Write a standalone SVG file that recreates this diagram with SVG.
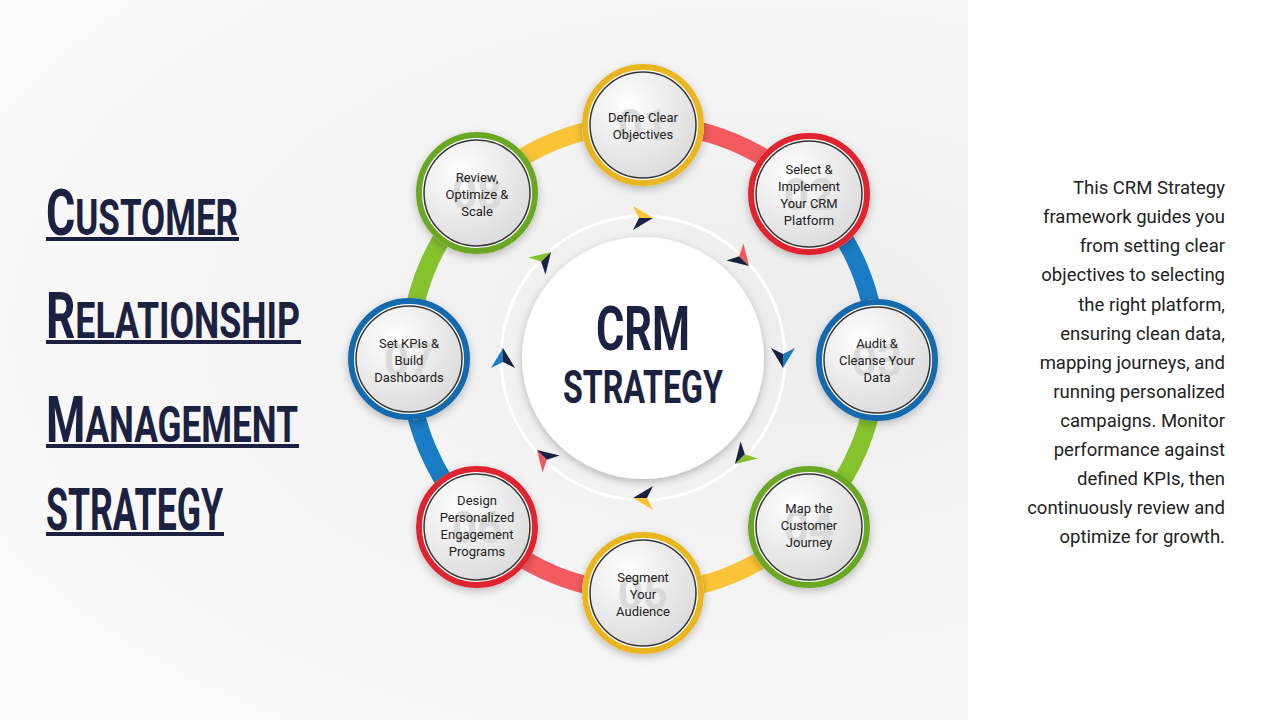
<svg xmlns="http://www.w3.org/2000/svg" width="1280" height="720" viewBox="0 0 1280 720">
<defs>
<radialGradient id="bg" cx="0.6" cy="0.45" r="0.7"><stop offset="0" stop-color="#ededed"/><stop offset="1" stop-color="#fbfbfb"/></radialGradient>
<radialGradient id="nf" cx="0.35" cy="0.3" r="0.8"><stop offset="0" stop-color="#ffffff"/><stop offset="1" stop-color="#d9d9d9"/></radialGradient>
<filter id="sh" x="-30%" y="-30%" width="160%" height="160%"><feDropShadow dx="0" dy="3" stdDeviation="4" flood-color="#000" flood-opacity="0.25"/></filter>
<g id="arw"><path d="M-10,-12 L10,0 L-4,0 Z"/><path d="M-4,0 L10,0 L-10,12 Z" fill="#1b2140"/></g>
</defs>
<style>
.t{font-family:"Roboto","Liberation Sans",sans-serif;fill:#222;font-size:13px;text-anchor:middle}
.num{font-family:"Roboto",sans-serif;font-weight:bold;font-size:44px;fill:#dadada;text-anchor:middle}
.ring{fill:none;stroke-width:18}
.body{font-family:"Roboto","Liberation Sans",sans-serif;font-size:18.5px;fill:#222;text-anchor:end}
.ti{font-family:"Roboto","Liberation Sans",sans-serif;font-weight:bold;fill:#1b2140}
.ul{fill:#1b2140}
</style>
<rect width="1280" height="720" fill="url(#bg)"/>
<rect x="968" y="0" width="312" height="720" fill="#ffffff"/>
<g id="title">
<text class="ti" font-size="64" x="46" y="235" textLength="192" lengthAdjust="spacingAndGlyphs">C<tspan font-size="50">USTOMER</tspan></text><rect class="ul" x="46" y="237" width="193" height="4"/>
<text class="ti" font-size="64" x="46" y="338" textLength="254" lengthAdjust="spacingAndGlyphs">R<tspan font-size="50">ELATIONSHIP</tspan></text><rect class="ul" x="46" y="340" width="255" height="4"/>
<text class="ti" font-size="64" x="46" y="442" textLength="252" lengthAdjust="spacingAndGlyphs">M<tspan font-size="50">ANAGEMENT</tspan></text><rect class="ul" x="46" y="444" width="253" height="4"/>
<text class="ti" font-size="60" x="46" y="530" textLength="177" lengthAdjust="spacingAndGlyphs">STRATEGY</text><rect class="ul" x="46" y="532" width="178" height="4"/>
</g>
<g id="connectors">
<path class="ring" stroke="#f25a5f" d="M643,124 A234,234 0 0 1 808.5,192.5"/>
<path class="ring" stroke="#1a7cc4" d="M808.5,192.5 A234,234 0 0 1 877,358"/>
<path class="ring" stroke="#86c22c" d="M877,358 A234,234 0 0 1 808.5,523.5"/>
<path class="ring" stroke="#f9c437" d="M808.5,523.5 A234,234 0 0 1 643,592"/>
<path class="ring" stroke="#f25a5f" d="M643,592 A234,234 0 0 1 477.5,523.5"/>
<path class="ring" stroke="#1a7cc4" d="M477.5,523.5 A234,234 0 0 1 409,358"/>
<path class="ring" stroke="#86c22c" d="M409,358 A234,234 0 0 1 477.5,192.5"/>
<path class="ring" stroke="#f9c437" d="M477.5,192.5 A234,234 0 0 1 643,124"/>
<circle cx="643" cy="358" r="142" fill="none" stroke="#ffffff" stroke-width="3"/>
<use href="#arw" transform="translate(643,218)" fill="#f9c437"/>
<use href="#arw" transform="translate(742,259) rotate(45)" fill="#f25a5f"/>
<use href="#arw" transform="translate(783,358) rotate(90)" fill="#1a7cc4"/>
<use href="#arw" transform="translate(742,457) rotate(135)" fill="#86c22c"/>
<use href="#arw" transform="translate(643,498) rotate(180)" fill="#f9c437"/>
<use href="#arw" transform="translate(544,457) rotate(225)" fill="#f25a5f"/>
<use href="#arw" transform="translate(503,358) rotate(270)" fill="#1a7cc4"/>
<use href="#arw" transform="translate(544,259) rotate(315)" fill="#86c22c"/>
</g>
<g id="center">
<circle cx="643" cy="358" r="121" fill="#fff" filter="url(#sh)"/>
<text x="643" y="350" font-family="Roboto,sans-serif" font-weight="bold" font-size="62" fill="#1b2140" text-anchor="middle" transform="translate(643,0) scale(0.7,1) translate(-643,0)">CRM</text>
<text x="643" y="403" font-family="Roboto,sans-serif" font-weight="bold" font-size="46" fill="#1b2140" text-anchor="middle" transform="translate(643,0) scale(0.7,1) translate(-643,0)">STRATEGY</text>
</g>
<g id="n1"><circle cx="643" cy="125" r="61" fill="#fff" filter="url(#sh)"/><circle cx="643" cy="125" r="58" fill="none" stroke="#e9b620" stroke-width="6"/><circle cx="643" cy="125" r="53" fill="url(#nf)" stroke="#333" stroke-width="1.5"/><text class="num" x="643" y="141">01</text><text class="t" x="643" y="122">Define Clear</text><text class="t" x="643" y="139">Objectives</text></g>
<g id="n2"><circle cx="809" cy="194" r="61" fill="#fff" filter="url(#sh)"/><circle cx="809" cy="194" r="58" fill="none" stroke="#e0242f" stroke-width="6"/><circle cx="809" cy="194" r="53" fill="url(#nf)" stroke="#333" stroke-width="1.5"/><text class="num" x="809" y="210">02</text><text class="t" x="809" y="174">Select &amp;</text><text class="t" x="809" y="191">Implement</text><text class="t" x="809" y="208">Your CRM</text><text class="t" x="809" y="225">Platform</text></g>
<g id="n3"><circle cx="877" cy="360" r="61" fill="#fff" filter="url(#sh)"/><circle cx="877" cy="360" r="58" fill="none" stroke="#1569ad" stroke-width="6"/><circle cx="877" cy="360" r="53" fill="url(#nf)" stroke="#333" stroke-width="1.5"/><text class="num" x="877" y="376">03</text><text class="t" x="877" y="348">Audit &amp;</text><text class="t" x="877" y="365">Cleanse Your</text><text class="t" x="877" y="382">Data</text></g>
<g id="n4"><circle cx="809" cy="527" r="61" fill="#fff" filter="url(#sh)"/><circle cx="809" cy="527" r="58" fill="none" stroke="#6aa722" stroke-width="6"/><circle cx="809" cy="527" r="53" fill="url(#nf)" stroke="#333" stroke-width="1.5"/><text class="num" x="809" y="543">04</text><text class="t" x="809" y="513">Map the</text><text class="t" x="809" y="530">Customer</text><text class="t" x="809" y="547">Journey</text></g>
<g id="n5"><circle cx="643" cy="593" r="61" fill="#fff" filter="url(#sh)"/><circle cx="643" cy="593" r="58" fill="none" stroke="#e9b620" stroke-width="6"/><circle cx="643" cy="593" r="53" fill="url(#nf)" stroke="#333" stroke-width="1.5"/><text class="num" x="643" y="609">05</text><text class="t" x="643" y="582">Segment</text><text class="t" x="643" y="599">Your</text><text class="t" x="643" y="616">Audience</text></g>
<g id="n6"><circle cx="477" cy="527" r="61" fill="#fff" filter="url(#sh)"/><circle cx="477" cy="527" r="58" fill="none" stroke="#e0242f" stroke-width="6"/><circle cx="477" cy="527" r="53" fill="url(#nf)" stroke="#333" stroke-width="1.5"/><text class="num" x="477" y="543">06</text><text class="t" x="477" y="505">Design</text><text class="t" x="477" y="522">Personalized</text><text class="t" x="477" y="539">Engagement</text><text class="t" x="477" y="556">Programs</text></g>
<g id="n7"><circle cx="409" cy="359" r="61" fill="#fff" filter="url(#sh)"/><circle cx="409" cy="359" r="58" fill="none" stroke="#1569ad" stroke-width="6"/><circle cx="409" cy="359" r="53" fill="url(#nf)" stroke="#333" stroke-width="1.5"/><text class="num" x="409" y="375">07</text><text class="t" x="409" y="348">Set KPIs &amp;</text><text class="t" x="409" y="365">Build</text><text class="t" x="409" y="382">Dashboards</text></g>
<g id="n8"><circle cx="477" cy="193" r="61" fill="#fff" filter="url(#sh)"/><circle cx="477" cy="193" r="58" fill="none" stroke="#6aa722" stroke-width="6"/><circle cx="477" cy="193" r="53" fill="url(#nf)" stroke="#333" stroke-width="1.5"/><text class="num" x="477" y="209">08</text><text class="t" x="477" y="182">Review,</text><text class="t" x="477" y="199">Optimize &amp;</text><text class="t" x="477" y="216">Scale</text></g>
<g id="desc">
<text class="body" x="1225" y="194">This CRM Strategy</text>
<text class="body" x="1225" y="223">framework guides you</text>
<text class="body" x="1225" y="252">from setting clear</text>
<text class="body" x="1225" y="281">objectives to selecting</text>
<text class="body" x="1225" y="311">the right platform,</text>
<text class="body" x="1225" y="340">ensuring clean data,</text>
<text class="body" x="1225" y="369">mapping journeys, and</text>
<text class="body" x="1225" y="398">running personalized</text>
<text class="body" x="1225" y="427">campaigns. Monitor</text>
<text class="body" x="1225" y="456">performance against</text>
<text class="body" x="1225" y="485">defined KPIs, then</text>
<text class="body" x="1225" y="514">continuously review and</text>
<text class="body" x="1225" y="543">optimize for growth.</text>
</g>
</svg>
